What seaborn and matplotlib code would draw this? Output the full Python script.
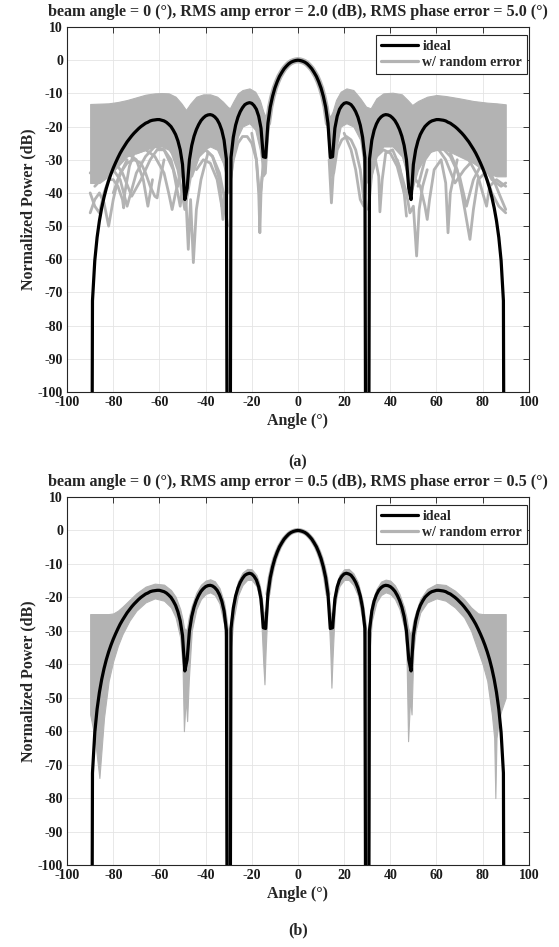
import numpy as np
import matplotlib
matplotlib.use("Agg")
import matplotlib.pyplot as plt
import seaborn as sns

# 8-element array pattern, 1 degree steps from -90 to 90
angle_deg = np.arange(-90, 91)
ideal_db = [
    -320.0, -72.5, -60.4, -53.4, -48.4, -44.5, -41.3, -38.6, -36.3, -34.3,
    -32.5, -30.9, -29.4, -28.0, -26.8, -25.7, -24.6, -23.7, -22.8, -22.0,
    -21.3, -20.6, -20.0, -19.5, -19.0, -18.7, -18.3, -18.1, -18.0, -17.9,
    -17.9, -18.1, -18.3, -18.7, -19.3, -20.0, -21.1, -22.4, -24.3, -27.0,
    -31.4, -42.0, -38.6, -30.0, -25.7, -22.9, -20.9, -19.4, -18.2, -17.4,
    -16.8, -16.5, -16.4, -16.6, -17.1, -17.9, -19.2, -21.1, -24.1, -29.8,
    -320.0, -29.3, -23.2, -19.6, -17.2, -15.5, -14.3, -13.4, -13.0, -12.8,
    -13.0, -13.7, -14.8, -16.9, -20.5, -29.1, -29.3, -19.0, -14.1, -10.9,
    -8.4, -6.5, -4.9, -3.7, -2.6, -1.8, -1.1, -0.6, -0.3, -0.1,
    0.0, -0.1, -0.3, -0.6, -1.1, -1.8, -2.6, -3.7, -4.9, -6.5,
    -8.4, -10.9, -14.1, -19.0, -29.3, -29.1, -20.5, -16.9, -14.8, -13.7,
    -13.0, -12.8, -13.0, -13.4, -14.3, -15.5, -17.2, -19.6, -23.2, -29.3,
    -320.0, -29.8, -24.1, -21.1, -19.2, -17.9, -17.1, -16.6, -16.4, -16.5,
    -16.8, -17.4, -18.2, -19.4, -20.9, -22.9, -25.7, -30.0, -38.6, -42.0,
    -31.4, -27.0, -24.3, -22.4, -21.1, -20.0, -19.3, -18.7, -18.3, -18.1,
    -17.9, -17.9, -18.0, -18.1, -18.3, -18.7, -19.0, -19.5, -20.0, -20.6,
    -21.3, -22.0, -22.8, -23.7, -24.6, -25.7, -26.8, -28.0, -29.4, -30.9,
    -32.5, -34.3, -36.3, -38.6, -41.3, -44.5, -48.4, -53.4, -60.4, -72.5,
    -320.0,
]

# (a) dense part of the random-error curves
a_left_deg = [-90, -86, -82, -78, -74, -70, -66, -62, -59, -56, -53, -50.5, -48.5, -46.5, -44, -41,
              -38, -35, -32.5, -30.5, -29.5, -28, -26, -24, -21, -18.5, -16.5, -15, -14, -13, -12]
a_left_hi = [-13.2, -13.1, -13.0, -12.6, -12.0, -11.2, -10.4, -10.0, -9.9, -10.0, -11.0, -13.0, -15.0,
             -13.0, -11.0, -10.3, -10.3, -11.0, -12.5, -14.0, -14.5, -12.5, -10.0, -9.0, -8.5, -9.5,
             -12.0, -15.5, -17.0, -16.0, -13.5]
a_left_lo = [-37, -37, -35, -32, -29, -28, -27, -26, -26, -27, -30, -35, -39, -35, -30, -27,
             -26, -27, -31, -37, -38, -30, -23, -20, -19, -21, -27, -35, -34, -23, -15.5]
a_right_deg = [12, 13, 14, 15, 16.5, 18.5, 21, 24, 27, 29.5, 31.5, 34, 37, 41, 45, 47.5, 49.5,
               52, 56, 60, 64, 70, 76, 82, 86, 90]
a_right_hi = [-13.5, -16.0, -17.0, -15.5, -12.0, -9.5, -8.5, -9.0, -11.5, -14.0, -14.5, -11.5, -10.0,
              -9.8, -10.3, -12.0, -13.5, -12.3, -11.0, -10.5, -10.8, -11.5, -12.3, -12.8, -13.0, -13.3]
a_right_lo = [-15.5, -24, -34, -36, -27, -20, -19, -20, -24, -37, -36, -29, -26, -26, -29, -35, -39,
              -33, -28, -27, -27, -29, -31, -34, -35, -35]

# (a) single curves below the dense part
a_extra_deg = [
    [-90, -88, -86, -84, -82, -80, -78, -76, -74],
    [-90, -88, -86, -84, -82, -80, -78, -76, -75.5, -75, -73, -70],
    [-80, -77, -74, -71, -68, -66, -64, -62, -61, -60, -58],
    [-78, -74, -70, -67, -65, -63],
    [-70, -66, -62, -58, -56, -54.5, -53, -51, -49],
    [-52, -50, -48.5, -47.5, -46.5, -45.3, -44, -42, -39],
    [-46, -43, -40, -37, -34, -32.5, -31.5, -30],
    [-20, -18, -17, -16.5, -16, -15],
    [-90, -86, -82, -79, -76, -72, -68, -64, -61, -58, -55, -52],
    [-88, -84, -80, -77, -74, -70, -66, -62, -58, -54, -51, -50],
    [-58, -55, -52, -49, -46, -44, -42, -40, -37, -34, -32, -30.5],
    [-44, -41, -38, -35, -33, -31.5],
    [-30, -28, -26, -24, -22, -20, -18, -16.5, -15.5],
    [13.5, 14.5, 15.2, 16.5],
    [15.5, 17, 19, 21, 23, 25, 27, 28.5],
    [20, 23, 25, 27, 28.5, 29.5],
    [30.5, 32, 34, 37, 40, 43, 46, 49, 51],
    [31, 33, 35, 35.5, 36.5, 38, 41, 44, 46, 47],
    [43, 45, 47, 48.5, 50, 51.4, 52.5, 54, 56],
    [50, 53, 55, 56, 57, 59, 62, 64, 65, 66, 69],
    [52, 55, 58, 61, 64, 68, 72, 76, 80, 84, 88, 90],
    [50, 54, 58, 62, 66, 70, 73, 76, 79, 83, 87, 90],
    [66, 69, 71, 73, 74.5, 76, 78, 81, 84, 87, 90],
    [70, 74, 78, 80, 81.7, 83, 86, 90],
]
a_extra_db = [
    [-46, -42, -40, -43, -50, -42, -36, -33, -30],
    [-40, -44, -46, -40, -36, -36, -38, -42, -44.5, -40, -32, -26],
    [-40, -34, -31, -30, -31, -34, -38, -41, -41.5, -37, -30],
    [-30, -28, -30, -36, -44, -36],
    [-28, -27, -29, -34, -40, -45, -40, -34, -30],
    [-30, -35, -42, -57, -42, -61, -45, -36, -28],
    [-35, -29, -27, -29, -36, -48, -42, -35],
    [-22, -30, -40, -52, -40, -30],
    [-34, -31, -30, -31, -34, -41, -36, -30, -27, -27, -30, -38],
    [-38, -35, -33, -36, -44, -34, -29, -26, -27, -33, -44, -38],
    [-24, -27, -33, -45, -33, -29, -27, -27, -29, -34, -41, -50],
    [-33, -30, -31, -36, -44, -40],
    [-40, -30, -25, -23, -23, -25, -30, -42, -35],
    [-30, -43, -35, -25],
    [-34, -27, -24, -23, -24, -27, -33, -42],
    [-22, -27, -33, -42, -44, -36],
    [-45, -34, -29, -27, -28, -32, -40, -40, -33],
    [-33, -28, -35, -45.7, -36, -28, -27, -32, -40, -47],
    [-30, -35, -40, -46, -44, -59, -45, -38, -33],
    [-35, -38, -44, -48, -42, -33, -30, -37, -52, -40, -30],
    [-38, -30, -27, -27, -30, -37, -33, -30, -31, -36, -38, -37],
    [-32, -26, -25, -26, -29, -35, -44, -36, -32, -33, -40, -45],
    [-28, -33, -40, -48, -54, -45, -36, -34, -40, -44, -46],
    [-27, -30, -35, -40, -44, -38, -36, -38],
]

# (b) spread of the random-error curves
b_left_deg = [-90, -88, -86, -84, -82, -80, -78, -76, -73, -70, -66, -62, -58, -55, -53, -51, -50,
              -49.4, -48.6, -48, -47.3, -46, -44, -42, -40, -38, -36, -34, -32, -31, -30.3, -29.7,
              -29, -28, -26, -24, -22, -20, -18, -17, -16, -15, -14.5, -14, -13, -12]
b_left_hi = [-25.0, -25.0, -25.0, -25.0, -25.0, -24.8, -24.0, -22.8, -20.8, -18.8, -16.8, -15.9,
             -16.2, -17.8, -19.8, -23.5, -26.5, -29, -30, -29, -26, -22.5, -18.6, -16.2, -15.0,
             -14.6, -15.2, -17.2, -21.5, -26, -30, -30, -26, -20.8, -15.3, -12.6, -11.5, -11.6,
             -13.3, -15.2, -18.2, -24, -25, -24, -17.5, -13.2]
b_left_lo = [-55, -62, -74, -56, -45, -39, -34.5, -31, -27, -24, -21.5, -20.3, -21, -23, -26, -32,
             -40, -60, -50, -57, -45, -30, -23.5, -20.5, -19, -18.5, -19.3, -21.8, -28, -36, -100,
             -100, -35, -27, -19.5, -16.3, -14.8, -14.8, -16.6, -19, -25, -40, -46, -36, -21, -15.5]
b_right_deg = [12, 13, 14, 14.5, 15, 16, 17, 18, 20, 22, 24, 26, 28, 29, 29.7, 30.3, 31, 32, 34,
               36, 38, 40, 42, 44, 46, 47, 47.7, 48.6, 49.2, 50, 51, 53, 56, 60, 64, 68, 72, 75,
               78, 80, 82, 84, 85, 85.5, 86, 87, 88, 89, 90]
b_right_hi = [-13.2, -17.5, -24, -25.5, -24.5, -18.5, -15.2, -13.3, -11.6, -11.5, -12.8, -15.5,
              -21, -26, -30, -30, -26, -21.5, -17.5, -15.3, -14.7, -15.0, -16.4, -19.0, -23, -26,
              -29, -31, -30, -27, -24.5, -20.5, -17.5, -16.0, -16.3, -18.0, -20.5, -23.0, -24.8,
              -25.0, -25.0, -25.0, -25.0, -25.0, -25.0, -25.0, -25.0, -25.0, -25.0]
b_right_lo = [-15.5, -21, -36, -47, -38, -23, -18.8, -16.6, -14.8, -14.8, -16.3, -19.5, -27, -35,
              -100, -100, -36, -27, -21.5, -19.3, -18.5, -19, -20.5, -23.5, -29, -36, -63, -50,
              -55, -36, -30, -24.5, -21.5, -20.3, -21, -23, -26, -30, -36, -40, -45, -55, -62,
              -80, -62, -57, -54, -52, -50]

titles = [
    "beam angle = 0 (°), RMS amp error = 2.0 (dB), RMS phase error = 5.0 (°)",
    "beam angle = 0 (°), RMS amp error = 0.5 (dB), RMS phase error = 0.5 (°)",
]

GRAY = "#b3b3b3"

sns.set_style("whitegrid")
plt.rcParams["font.family"] = ["Liberation Serif", "DejaVu Serif"]
plt.rcParams["font.weight"] = "bold"
plt.rcParams["axes.unicode_minus"] = False


def draw_panel(ax, title, bands, extra_deg, extra_db, main_lw):
    for deg, hi, lo in bands:
        ax.fill_between(deg, lo, hi, color=GRAY, lw=0.8, edgecolor=GRAY, zorder=2)
    for d, v in zip(extra_deg, extra_db):
        sns.lineplot(x=d, y=v, ax=ax, color=GRAY, lw=2.0, estimator=None, sort=False,
                     legend=False, zorder=2)
    # spread of the main lobe
    sns.lineplot(x=angle_deg[77:104], y=ideal_db[77:104], ax=ax, color=GRAY, lw=main_lw,
                 estimator=None, sort=False, legend=False, zorder=2)
    sns.lineplot(x=angle_deg, y=ideal_db, ax=ax, color="black", lw=2.3, estimator=None,
                 sort=False, label="ideal", zorder=4)
    sns.lineplot(x=[200, 201], y=[0, 0], ax=ax, color=GRAY, lw=2.3, estimator=None,
                 label="w/ random error")

    ax.set_xlim(-100, 100)
    ax.set_ylim(-100, 10)
    ax.set_xticks(range(-100, 101, 20))
    ax.set_yticks(range(-100, 11, 10))
    ax.grid(True, color="#e4e4e4", lw=0.6)
    ax.set_axisbelow(True)
    ax.tick_params(direction="in", top=True, right=True, length=4, width=0.6,
                   labelsize=10, colors="#1a1a1a", pad=3)
    for lab in ax.get_xticklabels() + ax.get_yticklabels():
        lab.set_fontweight("bold")
    for s in ax.spines.values():
        s.set_color("#262626")
        s.set_linewidth(0.8)
    ax.set_xlabel("Angle (°)", fontsize=11.5, fontweight="bold", labelpad=3)
    ax.set_ylabel("Normalized Power (dB)", fontsize=11.5, fontweight="bold", labelpad=1)
    ax.set_title(title, fontsize=11.6, fontweight="bold", pad=8)
    leg = ax.legend(loc="upper right", bbox_to_anchor=(0.996, 0.977), borderaxespad=0,
                    fancybox=False, framealpha=1, edgecolor="#262626",
                    handlelength=2.7, handletextpad=0.3, borderpad=0.35, labelspacing=0.2,
                    prop={"weight": "bold", "size": 10})
    leg.get_frame().set_linewidth(0.8)


fig = plt.figure(figsize=(5.59, 9.47), dpi=100)
ax1 = fig.add_axes([0.120, 0.586, 0.826, 0.3855])
ax2 = fig.add_axes([0.120, 0.0866, 0.826, 0.3886])

draw_panel(ax1, titles[0],
           [(a_left_deg, a_left_hi, a_left_lo), (a_right_deg, a_right_hi, a_right_lo)],
           a_extra_deg, a_extra_db, 4.5)
draw_panel(ax2, titles[1],
           [(b_left_deg, b_left_hi, b_left_lo), (b_right_deg, b_right_hi, b_right_lo)],
           [], [], 3.6)

fig.text(0.533, 1 - 462 / 947, "(a)", ha="center", va="center", fontsize=11.5, fontweight="bold")
fig.text(0.533, 1 - 930 / 947, "(b)", ha="center", va="center", fontsize=11.5, fontweight="bold")

fig.savefig("out.png", dpi=100)
